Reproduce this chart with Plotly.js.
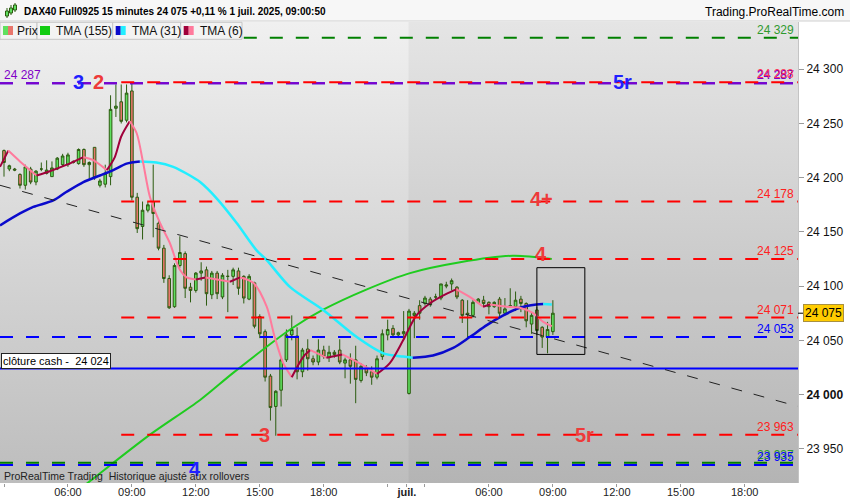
<!DOCTYPE html>
<html>
<head>
<meta charset="utf-8">
<script src="https://cdn.plot.ly/plotly-3.0.1.min.js"></script>
<style>
  html, body { margin: 0; padding: 0; background: #ffffff; }
  #graphique { width: 850px; height: 500px; }
</style>
</head>
<body>
<div id="graphique"></div>
<script>
// ============================================
// DAX40 Full0925 - bougies 15 minutes, 30 juin -> 1 juil. 2025
// Abscisse = numéro de bougie (0 = 03:00 le 30/06, 76 = 1re bougie du 1 juil.)
// ============================================

// --- Bougies (O, H, B, C) ---
const opens = [
  24225, 24208, 24208, 24203, 24193, 24208, 24196, 24208, 24204, 24201,
  24208, 24212, 24212, 24215, 24213, 24226, 24212, 24228, 24193, 24194,
  24201, 24264, 24270, 24253, 24280, 24182, 24155, 24170, 24178, 24158,
  24135, 24107, 24081, 24119, 24130, 24099, 24096, 24112, 24115, 24092,
  24112, 24090, 24109, 24109, 24114, 24109, 24088, 24103, 24072, 24058,
  24017, 23989, 24004, 24032, 24055, 24054, 24021, 24042, 24033, 24030,
  24041, 24034, 24039, 24041, 24029, 24032, 24032, 24013, 24024, 24021,
  24016, 24035, 24055, 24061, 24055, 24056, 24001, 24073, 24082, 24084,
  24088, 24090, 24089, 24100, 24102, 24099, 24087, 24075, 24073, 24085,
  24087, 24085, 24081, 24088, 24075, 24081, 24081, 24088, 24084, 24065,
  24078, 24062, 24053, 24058
];
const highs = [
  24226, 24212, 24209, 24204, 24212, 24210, 24207, 24214, 24216, 24215,
  24219, 24222, 24223, 24216, 24227, 24227, 24215, 24228, 24199, 24212,
  24276, 24286, 24286, 24286, 24288, 24186, 24178, 24178, 24212, 24160,
  24138, 24110, 24121, 24146, 24132, 24103, 24113, 24122, 24118, 24114,
  24114, 24112, 24115, 24117, 24117, 24110, 24111, 24104, 24074, 24060,
  24019, 24004, 24034, 24060, 24073, 24062, 24043, 24051, 24036, 24051,
  24045, 24045, 24041, 24051, 24034, 24038, 24045, 24029, 24027, 24026,
  24036, 24060, 24069, 24064, 24058, 24077, 24079, 24077, 24087, 24091,
  24090, 24093, 24102, 24104, 24107, 24100, 24088, 24087, 24087, 24089,
  24091, 24086, 24086, 24090, 24089, 24098, 24095, 24091, 24085, 24076,
  24081, 24063, 24067, 24087
];
const lows = [
  24201, 24206, 24206, 24190, 24189, 24194, 24193, 24206, 24203, 24201,
  24207, 24210, 24210, 24213, 24212, 24210, 24199, 24198, 24191, 24191,
  24193, 24256, 24250, 24251, 24179, 24149, 24143, 24168, 24145, 24133,
  24103, 24079, 24080, 24117, 24089, 24085, 24094, 24105, 24082, 24088,
  24088, 24088, 24076, 24101, 24092, 24084, 24087, 24061, 24052, 24012,
  23976, 23962, 23989, 24030, 24050, 24014, 24016, 24022, 24027, 24027,
  24033, 24030, 24034, 24028, 24015, 24010, 23992, 24011, 24017, 24009,
  24014, 24032, 24050, 24053, 24052, 24051, 24000, 24052, 24069, 24082,
  24081, 24088, 24087, 24098, 24096, 24088, 24066, 24051, 24071, 24084,
  24081, 24074, 24080, 24071, 24073, 24080, 24077, 24076, 24062, 24056,
  24055, 24043, 24038, 24055
];
const closes = [
  24214, 24211, 24207, 24193, 24210, 24196, 24206, 24208, 24207, 24209,
  24218, 24220, 24221, 24214, 24226, 24212, 24214, 24200, 24197, 24204,
  24263, 24266, 24252, 24278, 24182, 24153, 24170, 24175, 24167, 24135,
  24107, 24080, 24119, 24131, 24098, 24096, 24112, 24114, 24093, 24112,
  24093, 24110, 24109, 24115, 24098, 24089, 24109, 24063, 24056, 24016,
  23988, 24003, 24032, 24055, 24060, 24021, 24041, 24033, 24030, 24041,
  24035, 24039, 24037, 24030, 24032, 24026, 24014, 24026, 24020, 24016,
  24033, 24056, 24060, 24055, 24057, 24058, 24077, 24075, 24075, 24089,
  24083, 24090, 24102, 24101, 24105, 24090, 24073, 24074, 24085, 24088,
  24084, 24081, 24085, 24075, 24079, 24082, 24087, 24084, 24068, 24073,
  24059, 24053, 24060, 24075
];

// --- Moyennes mobiles triangulaires (points relevés : n° de bougie, valeur) ---
const tma155Idx = [-0.75, 16.1, 27.4, 36.8, 43, 53.7, 59.8, 68.1, 76.2, 85.6, 95.5, 102.8];
const tma155Val = [23855, 23920, 23963, 23995, 24020, 24060, 24078, 24097, 24112, 24122, 24128, 24125];

const tma31Idx = [-0.75, 3, 5.5, 9.25, 11.75, 14.9, 18, 20.5, 23, 25.5, 28.6, 31.75, 34.9, 36.8,
  39.9, 43.7, 47.4, 49.3, 53.7, 59.9, 66.2, 71.2, 74.9, 76.7, 80.5, 84.3, 87.4, 90.6, 93.7,
  96.8, 99.9, 101.2, 102.8];
const tma31Val = [24156, 24167, 24173, 24179, 24187, 24196, 24202, 24207, 24213, 24215, 24214,
  24210, 24202, 24196, 24181, 24158, 24133, 24124, 24099, 24078, 24053, 24038, 24035, 24034,
  24036, 24043, 24053, 24064, 24073, 24080, 24083, 24083.5, 24083];

const tma6Idx = [-0.75, 0.8, 3, 6.1, 8.6, 11.8, 14.9, 16.8, 19.3, 20.8, 22, 23.6, 24.9, 26.1,
  27.4, 29.3, 31.1, 33, 34.3, 36, 37.8, 40, 42.4, 44.3, 46.8, 49.3, 50.8, 52.4, 54, 56.2,
  57.5, 60.5, 63.5, 67.4, 70, 72.4, 74.9, 77.4, 79.9, 83.1, 84.9, 87.4, 89.9, 91.2, 94.3,
  96.8, 99.3, 101.2, 102.8];
const tma6Val = [24210, 24225, 24215, 24202, 24206, 24212, 24219, 24216, 24207, 24219, 24238,
  24252, 24241, 24214, 24182, 24158, 24140, 24115, 24108, 24106, 24108, 24106, 24104, 24108,
  24103, 24081, 24053, 24029, 24016, 24035, 24041, 24034, 24037, 24027, 24019, 24029, 24050,
  24073, 24084, 24093, 24097, 24090, 24081, 24083, 24081, 24080, 24075, 24067, 24063];

// --- Oblique pointillée et rectangle tracés sur le graphique ---
const trendIdx = [-0.75, 149];
const trendPrices = [24193, 23989];
const boxIdx = [100, 109];
const boxPrices = [24037, 24117];

// --- Niveaux horizontaux ---
const levelPrices = [24329, 24287, 24287, 24288, 24178, 24125, 24071, 24053, 24024, 23963, 23937, 23935];
const closeCash = 24024;
const lastPrice = 24075;

// --- Axes ---
const xTickIdx = [0, 12, 24, 36, 48, 60, 72, 75.6, 79, 91, 103, 115, 127, 139];
const xTickText = ['', '06:00', '09:00', '12:00', '15:00', '18:00', '', '<b>juil.</b>',
  '', '06:00', '09:00', '12:00', '15:00', '18:00'];
const yTickVals = [23950, 24000, 24050, 24100, 24150, 24200, 24250, 24300];

// ============================================
// Styles
// ============================================
const POLICE = 'Liberation Sans, Arial, sans-serif';
const ROUGE = '#ff0000';
const BLEU = '#0000ff';
const VIOLET = '#8000c8';
const VERT = '#008000';

// style de chaque niveau (même ordre que levelPrices) ; "from" = 1re bougie de la ligne
const levelStyles = [
  { color: VERT,   from: 45,    label: true,  labelColor: '#2f9a2f' },
  { color: BLEU,   from: -0.75, label: true,  labelColor: BLEU },
  { color: VIOLET, from: -0.75, label: true,  labelColor: VIOLET },
  { color: ROUGE,  from: 22,    label: true,  labelColor: '#ff3355' },
  { color: ROUGE,  from: 22,    label: true,  labelColor: '#ff2020' },
  { color: ROUGE,  from: 22,    label: true,  labelColor: '#ff2020' },
  { color: ROUGE,  from: 22,    label: true,  labelColor: '#ff2020' },
  { color: BLEU,   from: -0.75, label: true,  labelColor: BLEU },
  { color: BLEU,   from: -0.75, label: false, solid: true },
  { color: ROUGE,  from: 22,    label: true,  labelColor: '#ff2020' },
  { color: VERT,   from: -0.75, label: true,  labelColor: '#2f9a2f' },
  { color: BLEU,   from: -0.75, label: true,  labelColor: BLEU }
];

// zone tracée en pixels (marges Plotly)
const ZONE = { left: 0, right: 798, top: 22, bottom: 483 };
const px = x => (x - ZONE.left) / (ZONE.right - ZONE.left);
const py = y => (ZONE.bottom - y) / (ZONE.bottom - ZONE.top);

// "24287" -> "24 287"
function formatPrix(v) {
  const s = String(Math.round(v));
  return s.slice(0, s.length - 3) + ' ' + s.slice(-3);
}

// découpe une moyenne en tronçons montants / descendants (couleur bicolore)
function tronconsParPente(xs, ys) {
  const segs = [];
  let cur = null;
  for (let k = 0; k < xs.length - 1; k++) {
    const up = ys[k + 1] >= ys[k];
    if (!cur || cur.up !== up) {
      cur = { up, x: [xs[k]], y: [ys[k]] };
      segs.push(cur);
    }
    cur.x.push(xs[k + 1]);
    cur.y.push(ys[k + 1]);
  }
  return segs;
}

function tracesMoyenne(xs, ys, couleurHausse, couleurBaisse, largeur) {
  return tronconsParPente(xs, ys).map(s => ({
    x: s.x, y: s.y, type: 'scatter', mode: 'lines', hoverinfo: 'skip',
    line: { color: s.up ? couleurHausse : couleurBaisse, width: largeur, shape: 'spline', smoothing: 0.8 }
  }));
}

// ============================================
// Traces
// ============================================
const idx = opens.map((_, i) => i);
const traces = [];

traces.push({
  type: 'candlestick',
  x: idx, open: opens, high: highs, low: lows, close: closes,
  hoverinfo: 'skip',
  whiskerwidth: 0,
  increasing: { line: { color: '#2c5c10', width: 1 }, fillcolor: '#5fe05f' },
  decreasing: { line: { color: '#2c5c10', width: 1 }, fillcolor: '#e8766c' }
});

traces.push({
  x: tma155Idx, y: tma155Val, type: 'scatter', mode: 'lines', hoverinfo: 'skip',
  line: { color: '#1fcc1f', width: 2, shape: 'spline', smoothing: 0.8 }
});
traces.push(...tracesMoyenne(tma31Idx, tma31Val, '#0a0acc', '#22eeff', 2.5));
traces.push(...tracesMoyenne(tma6Idx, tma6Val, '#a0003a', '#ff7a9c', 2));

// niveaux horizontaux
levelPrices.forEach((v, k) => {
  const st = levelStyles[k];
  traces.push({
    x: [st.from, 149], y: [v, v], type: 'scatter', mode: 'lines', hoverinfo: 'skip',
    line: { color: st.color, width: 2, dash: st.solid ? 'solid' : '13px,13px' }
  });
});

// oblique
traces.push({
  x: trendIdx, y: trendPrices, type: 'scatter', mode: 'lines', hoverinfo: 'skip',
  line: { color: '#222222', width: 1, dash: '11px,12px' }
});

// rectangle
traces.push({
  x: [boxIdx[0], boxIdx[1], boxIdx[1], boxIdx[0], boxIdx[0]],
  y: [boxPrices[0], boxPrices[0], boxPrices[1], boxPrices[1], boxPrices[0]],
  type: 'scatter', mode: 'lines', hoverinfo: 'skip',
  line: { color: '#000000', width: 1 }
});

// ============================================
// Annotations
// ============================================
const annotations = [];

// étiquettes de prix à droite des niveaux
levelPrices.forEach((v, k) => {
  const st = levelStyles[k];
  if (!st.label) return;
  annotations.push({
    xref: 'x', yref: 'y', x: 148.6, y: v, xanchor: 'right', yanchor: 'middle', yshift: 8,
    text: formatPrix(v), showarrow: false,
    font: { family: POLICE, size: 12, color: st.labelColor }
  });
});
annotations.push({
  xref: 'paper', yref: 'y', x: px(2), y: levelPrices[2], xanchor: 'left', yanchor: 'middle', yshift: 8,
  text: formatPrix(levelPrices[2]), showarrow: false,
  font: { family: POLICE, size: 12, color: VIOLET }
});

// repères de vagues
const gros = (txt, i, v, col, dy) => ({
  xref: 'x', yref: 'y', x: i, y: v, xanchor: 'center', yanchor: 'middle', yshift: dy,
  text: '<b>' + txt + '</b>', showarrow: false,
  font: { family: POLICE, size: 20, color: col }
});
annotations.push(gros('3', 13.9, levelPrices[2], '#1f1fff', 1));
annotations.push(gros('2', 17.7, levelPrices[2], '#ee3a3a', 1));
annotations.push(gros('5r', 116, levelPrices[2], '#1f1fff', 1));
annotations.push(gros('4+', 100.8, levelPrices[4], '#ee3a3a', 3));
annotations.push(gros('4', 100.7, levelPrices[5], '#ee3a3a', 5));
annotations.push(gros('3', 48.8, levelPrices[9], '#ee3a3a', 0));
annotations.push(gros('5r', 109, levelPrices[9], '#ee3a3a', 0));
annotations.push(gros('4', 35.8, levelPrices[11], '#1f1fff', -4));

// clôture cash
annotations.push({
  xref: 'paper', yref: 'y', x: px(1), y: closeCash, xanchor: 'left', yanchor: 'bottom', yshift: 0,
  text: 'clôture cash -&nbsp; ' + formatPrix(closeCash), showarrow: false,
  bgcolor: '#ffffff', bordercolor: '#222222', borderwidth: 1, borderpad: 1,
  font: { family: POLICE, size: 11, color: '#000000' }
});

// dernier cours sur l'axe
annotations.push({
  xref: 'paper', yref: 'y', x: px(803), y: lastPrice, xanchor: 'left', yanchor: 'middle',
  text: formatPrix(lastPrice), showarrow: false,
  bgcolor: '#ffcc00', bordercolor: '#a89040', borderwidth: 1, borderpad: 1,
  font: { family: POLICE, size: 12, color: '#000000' }
});

// bandeau du haut
annotations.push({
  xref: 'paper', yref: 'paper', x: px(22), y: py(11.5), xanchor: 'left', yanchor: 'middle',
  text: '<b>DAX40 Full0925 15 minutes 24 075 +0,11 % 1 juil. 2025, 09:00:50</b>', showarrow: false,
  font: { family: POLICE, size: 10, color: '#000000' }
});
annotations.push({
  xref: 'paper', yref: 'paper', x: px(846), y: py(12), xanchor: 'right', yanchor: 'middle',
  text: 'Trading.ProRealTime.com', showarrow: false,
  font: { family: POLICE, size: 12, color: '#000000' }
});

// légende
const legende = [
  { txt: 'Prix', x0: 0, x1: 37, c1: '#5fe05f', c2: '#e8766c', tx: 15 },
  { txt: 'TMA (155)', x0: 37, x1: 112.7, c1: '#11cc11', c2: '#11cc11', tx: 54 },
  { txt: 'TMA (31)', x0: 112.7, x1: 180.7, c1: '#0a0acc', c2: '#22eeff', tx: 130 },
  { txt: 'TMA (6)', x0: 180.7, x1: 242, c1: '#a0003a', c2: '#ff7a9c', tx: 198 }
];
legende.forEach(l => {
  annotations.push({
    xref: 'paper', yref: 'paper', x: px(l.tx), y: py(30.5), xanchor: 'left', yanchor: 'middle',
    text: l.txt, showarrow: false, font: { family: POLICE, size: 12, color: '#111111' }
  });
});

// mention du bas
annotations.push({
  xref: 'paper', yref: 'paper', x: px(2), y: py(476), xanchor: 'left', yanchor: 'middle',
  text: 'ProRealTime Trading&nbsp; Historique ajusté aux rollovers', showarrow: false,
  font: { family: POLICE, size: 10.5, color: '#222222' }
});

// ============================================
// Formes (fond, bandeau, légende)
// ============================================
const shapes = [
  // jour du 1 juil. légèrement plus sombre
  { type: 'rect', xref: 'x', yref: 'paper', x0: 75.9, x1: 150, y0: 0, y1: 1,
    fillcolor: 'rgba(0,0,0,0.045)', line: { width: 0 }, layer: 'below' },
  // bandeau titre
  { type: 'rect', xref: 'paper', yref: 'paper', x0: px(0), x1: px(850), y0: py(21), y1: py(0),
    fillcolor: '#f7f7f7', line: { width: 0 } },
  { type: 'line', xref: 'paper', yref: 'paper', x0: px(0), x1: px(850), y0: py(21), y1: py(21),
    line: { color: '#cfcfcf', width: 1 } },
  // petit trait du dernier cours
  { type: 'line', xref: 'paper', yref: 'y', x0: px(798), x1: px(803), y0: lastPrice, y1: lastPrice,
    line: { color: '#000000', width: 1 } },
  // icône bougies
  { type: 'line', xref: 'paper', yref: 'paper', x0: px(7), x1: px(7), y0: py(18), y1: py(8), line: { color: '#2c5c10', width: 1 } },
  { type: 'rect', xref: 'paper', yref: 'paper', x0: px(5.5), x1: px(8.5), y0: py(16), y1: py(11), fillcolor: '#5fe05f', line: { color: '#2c5c10', width: 1 } },
  { type: 'line', xref: 'paper', yref: 'paper', x0: px(11), x1: px(11), y0: py(15), y1: py(5), line: { color: '#2c5c10', width: 1 } },
  { type: 'rect', xref: 'paper', yref: 'paper', x0: px(9.5), x1: px(12.5), y0: py(13), y1: py(8), fillcolor: '#5fe05f', line: { color: '#2c5c10', width: 1 } },
  { type: 'line', xref: 'paper', yref: 'paper', x0: px(15), x1: px(15), y0: py(12), y1: py(3), line: { color: '#2c5c10', width: 1 } },
  { type: 'rect', xref: 'paper', yref: 'paper', x0: px(13.5), x1: px(16.5), y0: py(10), y1: py(5), fillcolor: '#5fe05f', line: { color: '#2c5c10', width: 1 } }
];
legende.forEach(l => {
  shapes.push({ type: 'rect', xref: 'paper', yref: 'paper', x0: px(l.x0), x1: px(l.x1), y0: py(39.3), y1: py(22.3),
    fillcolor: '#f3f3f3', line: { color: '#c6c6c6', width: 1 } });
  shapes.push({ type: 'rect', xref: 'paper', yref: 'paper', x0: px(l.x0 + 3), x1: px(l.x0 + 8), y0: py(35), y1: py(26),
    fillcolor: l.c1, line: { width: 0 } });
  shapes.push({ type: 'rect', xref: 'paper', yref: 'paper', x0: px(l.x0 + 8), x1: px(l.x0 + 13), y0: py(35), y1: py(26),
    fillcolor: l.c2, line: { width: 0 } });
});

// dégradé de fond (SVG en data URI, pas de réseau)
const fondSvg = "<svg xmlns='http://www.w3.org/2000/svg' width='10' height='100' preserveAspectRatio='none'>" +
  "<defs><linearGradient id='g' x1='0' y1='0' x2='0' y2='1'>" +
  "<stop offset='0' stop-color='#f0f0f0'/><stop offset='0.5' stop-color='#d6d6d6'/><stop offset='1' stop-color='#bdbdbd'/>" +
  "</linearGradient></defs><rect width='10' height='100' fill='url(#g)'/></svg>";

const layout = {
  width: 850, height: 500,
  margin: { l: 0, r: 52, t: 22, b: 17, pad: 0 },
  paper_bgcolor: '#ffffff',
  plot_bgcolor: '#d6d6d6',
  showlegend: false,
  hovermode: false,
  font: { family: POLICE, size: 11, color: '#111111' },
  xaxis: {
    type: 'linear',
    range: [-0.75, 149],
    rangeslider: { visible: false },
    tickmode: 'array', tickvals: xTickIdx, ticktext: xTickText,
    ticks: 'outside', ticklen: 3, tickcolor: '#9a9a9a',
    ticklabelstandoff: -4,
    showgrid: false, zeroline: false, showline: false,
    tickfont: { family: POLICE, size: 11, color: '#222222' },
    fixedrange: true
  },
  yaxis: {
    side: 'right',
    range: [23918.4, 24343.6],
    tickmode: 'array', tickvals: yTickVals,
    ticktext: yTickVals.map(v => v % 1000 === 0 ? '<b>' + formatPrix(v) + '</b>' : formatPrix(v)),
    ticks: 'outside', ticklen: 5, tickcolor: '#9a9a9a',
    showgrid: false, zeroline: false,
    showline: true, linecolor: '#c4c4c4', linewidth: 1,
    tickfont: { family: POLICE, size: 12, color: '#111111' },
    fixedrange: true
  },
  images: [{
    source: 'data:image/svg+xml;charset=utf-8,' + encodeURIComponent(fondSvg),
    xref: 'paper', yref: 'paper', x: 0, y: 1, sizex: 1, sizey: 1,
    xanchor: 'left', yanchor: 'top', sizing: 'stretch', layer: 'below'
  }],
  shapes: shapes,
  annotations: annotations
};

Plotly.newPlot('graphique', traces, layout, { displayModeBar: false, staticPlot: true });
</script>
</body>
</html>
